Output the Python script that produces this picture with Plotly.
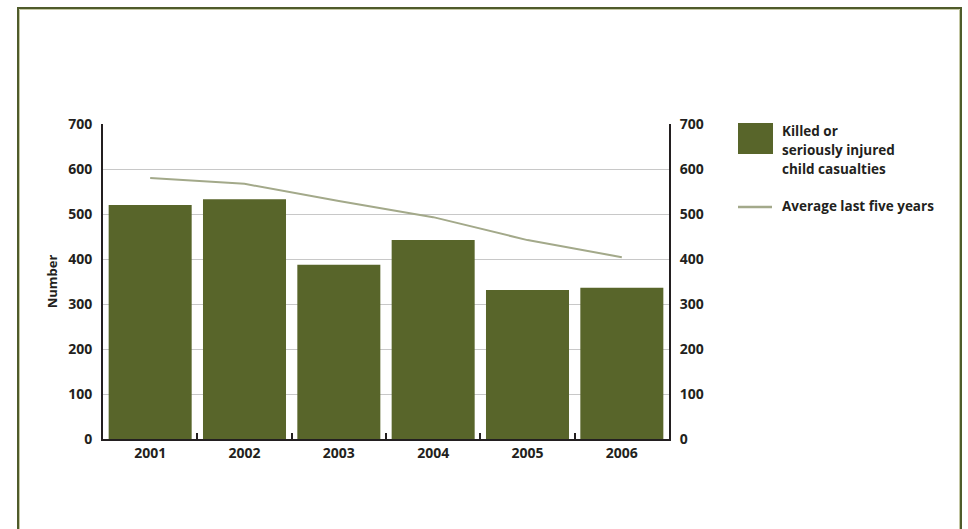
import plotly.graph_objects as go

years = ["2001", "2002", "2003", "2004", "2005", "2006"]
casualties = [520, 533, 387, 442, 331, 336]
average_five = [580, 567, 529, 493, 442, 404]
y_ticks = [0, 100, 200, 300, 400, 500, 600, 700]
bar_legend_lines = ["Killed or", "seriously injured", "child casualties"]
line_legend = "Average last five years"

BAR = "#58652a"
LINE = "#a3a98a"
TXT = "#231f20"
FONT = "Open Sans"

W, H = 968, 529
L, R, T, B = 103, 669, 124, 439

def px(x):
    return (x - L) / (R - L)

def py(y):
    return (B - y) / (B - T)

fig = go.Figure()
fig.add_trace(go.Bar(x=years, y=casualties, marker=dict(color=BAR, line=dict(width=0)),
                     showlegend=False))
fig.add_trace(go.Scatter(x=years, y=average_five, mode="lines",
                         line=dict(color=LINE, width=2), showlegend=False))
# invisible trace for right axis
fig.add_trace(go.Scatter(x=years, y=casualties, yaxis="y2", mode="none",
                         showlegend=False, hoverinfo="skip"))

axis_font = dict(family=FONT, size=14, color=TXT, weight="bold")

fig.update_layout(
    width=W, height=H,
    margin=dict(l=L, r=W - R, t=T, b=H - B),
    paper_bgcolor="white", plot_bgcolor="white",
    bargap=0.12,
    xaxis=dict(type="category", tickfont=axis_font, showline=True,
               linecolor=TXT, linewidth=2, ticks="inside", tickson="boundaries",
               ticklen=6, tickwidth=2, tickcolor=TXT, showgrid=False,
               range=[-0.5, 5.5]),
    yaxis=dict(range=[0, 700], tickvals=y_ticks, tickfont=axis_font,
               showline=True, linecolor=TXT, linewidth=2,
               showgrid=True, gridcolor="#c8c8c8", gridwidth=1,
               zeroline=False, ticks="", ticklabelstandoff=6,
               title=dict(text="Number", font=dict(family=FONT, size=13, color=TXT, weight="bold"),
                          standoff=8)),
    yaxis2=dict(range=[0, 700], tickvals=y_ticks, tickfont=axis_font,
                overlaying="y", side="right", showline=True, linecolor=TXT,
                linewidth=2, showgrid=False, zeroline=False, ticks="",
                ticklabelstandoff=6),
)

shapes = []
# frame (open at bottom)
shapes.append(dict(type="path", xref="paper", yref="paper",
                   path=f"M {px(18)},{py(540)} L {px(18)},{py(8)} L {px(961)},{py(8)} L {px(961)},{py(540)}",
                   line=dict(color="#4f5b2a", width=2)))
shapes.append(dict(type="path", xref="paper", yref="paper",
                   path=f"M {px(19.5)},{py(540)} L {px(19.5)},{py(9.5)} L {px(959.5)},{py(9.5)} L {px(959.5)},{py(540)}",
                   line=dict(color="#c4c8a4", width=1)))
# legend symbols
shapes.append(dict(type="rect", xref="paper", yref="paper",
                   x0=px(738), x1=px(773), y0=py(154), y1=py(123),
                   fillcolor=BAR, line=dict(width=0)))
shapes.append(dict(type="line", xref="paper", yref="paper",
                   x0=px(738), x1=px(772), y0=py(207), y1=py(207),
                   line=dict(color=LINE, width=2.5)))
fig.update_layout(shapes=shapes)

leg_font = dict(family=FONT, size=13.5, color=TXT, weight="bold")
for i, txt in enumerate(bar_legend_lines):
    fig.add_annotation(xref="paper", yref="paper", x=px(780), y=py(131 + 19 * i),
                       xanchor="left", yanchor="middle", showarrow=False, align="left",
                       text=txt, font=leg_font)
fig.add_annotation(xref="paper", yref="paper", x=px(780), y=py(206),
                   xanchor="left", yanchor="middle", showarrow=False, align="left",
                   text=line_legend, font=leg_font)

fig.write_html("out.html")
